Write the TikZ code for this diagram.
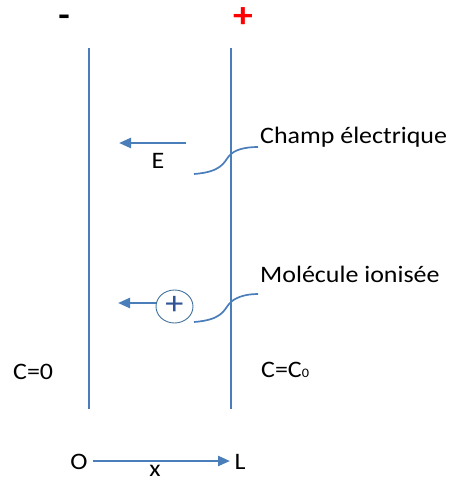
\documentclass[tikz,border=0pt]{standalone}
\usepackage{fontspec}
\setmainfont{Carlito}[FakeStretch=1.1]
\usetikzlibrary{arrows.meta,shapes.geometric}
\definecolor{lineblue}{HTML}{4A7EBB}
\definecolor{darkblue}{HTML}{2F5597}
\definecolor{outline}{HTML}{41719C}
\tikzset{
  plate/.style={lineblue, line width=2.6pt},
  vecarrow/.style={lineblue, line width=2.3pt, -{Triangle[length=12pt,width=10pt]}},
  callout/.style={lineblue, line width=1.7pt},
  lbl/.style={inner sep=0pt, anchor=base west, font=\fontsize{23.6}{26}\selectfont},
  lblc/.style={inner sep=0pt, anchor=base, font=\fontsize{23.6}{26}\selectfont},
}
\begin{document}
\begin{tikzpicture}[x=1pt,y=-1pt]
\useasboundingbox (0,0) rectangle (451,481);
% plates
\coordinate (lt) at (89,48); \coordinate (lb) at (89,409);
\coordinate (rt) at (231,48); \coordinate (rb) at (231,409);
\draw[plate] (lt) -- (lb);
\draw[plate] (rt) -- (rb);
% signs
\node[inner sep=0pt, anchor=base, font=\fontsize{34}{34}\selectfont\bfseries] (minus) at (64,27) {-};
\node[inner sep=0pt, text=red, font=\fontsize{36}{36}\selectfont\bfseries] (plus) at (243,18) {+};
% field arrow
\coordinate (etail) at (186,143); \coordinate (etip) at (119,143);
\draw[vecarrow] (etail) -- (etip);
\node[lblc] (E) at (158,168) {E};
% callout 1
\coordinate (c1a) at (194,174); \coordinate (c1b) at (258,147);
\draw[callout] (c1a) .. controls (222,172) and (224,162) .. (229,156) .. controls (234,150) and (244,147) .. (c1b);
\node[lbl] (champ) at (260,144) {Champ électrique};
% molecule
\node[draw=outline, line width=0.9pt, ellipse, minimum width=37pt, minimum height=33pt, inner sep=0pt] (mol) at (174.5,306.5) {};
\node[inner sep=0pt, text=darkblue, font=\fontsize{33}{33}\selectfont] (molp) at (174.5,305.5) {+};
\coordinate (mtip) at (118,303);
\draw[vecarrow] (mol.west |- mtip) -- (mtip);
% callout 2
\coordinate (c2a) at (194,322); \coordinate (c2b) at (258,294);
\draw[callout] (c2a) .. controls (222,320) and (224,310) .. (229,304) .. controls (234,298) and (244,294) .. (c2b);
\node[lbl] (molec) at (260,282) {Molécule ionisée};
% concentrations
\node[lbl] (c0) at (13,379) {C=0};
\node[lbl] (cc0) at (261,377) {C=C{\fontsize{13}{13}\selectfont 0}};
% axis
\node[lblc] (O) at (79,469) {O};
\node[lblc] (L) at (240,469) {L};
\coordinate (xa) at (93,461); \coordinate (xb) at (230,461);
\draw[vecarrow] (xa) -- (xb);
\node[lblc] (x) at (155,476) {x};
\end{tikzpicture}
\end{document}
